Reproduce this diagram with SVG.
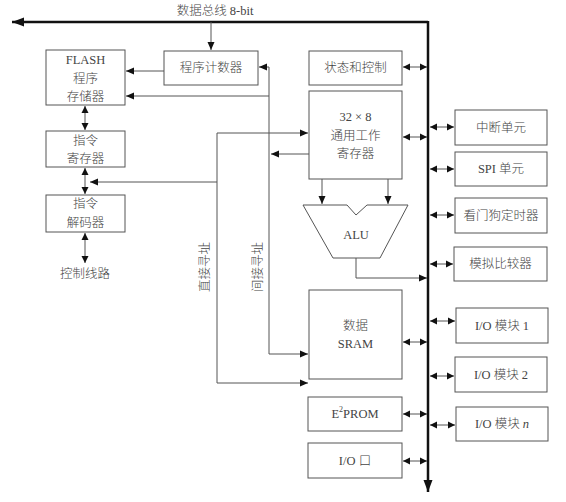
<svg xmlns="http://www.w3.org/2000/svg" width="566" height="502" viewBox="0 0 566 502">
<style>
.box{fill:#fff;stroke:#555;stroke-width:1}
.t{font-family:"Liberation Serif","Noto Sans CJK SC",serif;font-size:12.5px;font-weight:300;fill:#444;text-anchor:middle;dominant-baseline:central}
.c{fill:none;stroke:#555;stroke-width:1}
.bus{fill:none;stroke:#111;stroke-width:2.5}
</style>
<defs>
<marker id="a" markerUnits="userSpaceOnUse" markerWidth="10" markerHeight="10" refX="9" refY="5" orient="auto">
<path d="M1,1.5 L9,5 L1,8.5 Z" fill="#111"/>
</marker>
<marker id="s" markerUnits="userSpaceOnUse" markerWidth="10" markerHeight="10" refX="9" refY="5" orient="auto-start-reverse">
<path d="M2,1.5 L9,5 L2,8.5 Z" fill="#111"/>
</marker>
<marker id="b" markerUnits="userSpaceOnUse" markerWidth="14" markerHeight="12" refX="12" refY="6" orient="auto">
<path d="M0,1.5 L12,6 L0,10.5 Z" fill="#111"/>
</marker>
</defs>
<rect width="566" height="502" fill="#fff"/>

<g id="connectors">
<path class="bus" d="M428,22 H12" marker-end="url(#b)"/>
<path class="bus" d="M428,21 V492" marker-end="url(#b)"/>
<path class="c" d="M211,22 V50" marker-end="url(#a)"/>
<path class="c" d="M164,71 H126" marker-end="url(#a)"/>
<path class="c" d="M269,96 H126" marker-end="url(#a)"/>
<path class="c" d="M269,67 H259" marker-end="url(#a)"/>
<path class="c" d="M269,67 V354 H308" marker-end="url(#a)"/>
<path class="c" d="M309,154 H271" marker-end="url(#a)"/>
<path class="c" d="M217,133 H308" marker-end="url(#a)"/>
<path class="c" d="M217,133 V383 H308" marker-end="url(#a)"/>
<path class="c" d="M217,182 H90" marker-end="url(#a)"/>
<path class="c" d="M85,106 V130" marker-start="url(#s)" marker-end="url(#s)"/>
<path class="c" d="M85,168 V194" marker-start="url(#s)" marker-end="url(#s)"/>
<path class="c" d="M85,233 V263" marker-start="url(#s)" marker-end="url(#s)"/>
<path class="c" d="M322,179 V204" marker-end="url(#a)"/>
<path class="c" d="M388,179 V204" marker-end="url(#a)"/>
<path class="c" d="M356,258 V278 H427" marker-end="url(#a)"/>
<path class="c" d="M403,67 H427" marker-start="url(#s)" marker-end="url(#s)"/>
<path class="c" d="M403,137 H427" marker-start="url(#s)" marker-end="url(#s)"/>
<path class="c" d="M403,342 H427" marker-start="url(#s)" marker-end="url(#s)"/>
<path class="c" d="M403,414 H427" marker-start="url(#s)" marker-end="url(#s)"/>
<path class="c" d="M403,461 H427" marker-start="url(#s)" marker-end="url(#s)"/>
<path class="c" d="M430,127 H454" marker-start="url(#s)" marker-end="url(#s)"/>
<path class="c" d="M430,169 H454" marker-start="url(#s)" marker-end="url(#s)"/>
<path class="c" d="M430,215 H454" marker-start="url(#s)" marker-end="url(#s)"/>
<path class="c" d="M430,264 H453" marker-start="url(#s)" marker-end="url(#s)"/>
<path class="c" d="M430,321 H455" marker-start="url(#s)" marker-end="url(#s)"/>
<path class="c" d="M430,376 H454" marker-start="url(#s)" marker-end="url(#s)"/>
<path class="c" d="M430,425 H455" marker-start="url(#s)" marker-end="url(#s)"/>
</g>

<text class="t" x="215" y="11">数据总线 8-bit</text>
<text class="t" x="85" y="274">控制线路</text>
<text class="t" transform="translate(205,267) rotate(-90)">直接寻址</text>
<text class="t" transform="translate(258,267) rotate(-90)">间接寻址</text>

<g id="flash">
<rect class="box" x="46" y="50" width="79" height="55"/>
<text class="t" x="85.5" y="60">FLASH</text>
<text class="t" x="85.5" y="79">程序</text>
<text class="t" x="85.5" y="97">存储器</text>
</g>
<g id="pc">
<rect class="box" x="164" y="51" width="94" height="34"/>
<text class="t" x="211" y="68">程序计数器</text>
</g>
<g id="ir">
<rect class="box" x="46" y="131" width="79" height="36"/>
<text class="t" x="85.5" y="141">指令</text>
<text class="t" x="85.5" y="159">寄存器</text>
</g>
<g id="id">
<rect class="box" x="46" y="195" width="79" height="37"/>
<text class="t" x="85.5" y="204">指令</text>
<text class="t" x="85.5" y="223">解码器</text>
</g>
<g id="status">
<rect class="box" x="309" y="51" width="93" height="34"/>
<text class="t" x="355.5" y="68">状态和控制</text>
</g>
<g id="regs">
<rect class="box" x="309" y="91" width="93" height="88"/>
<text class="t" x="355.5" y="117">32 × 8</text>
<text class="t" x="355.5" y="136">通用工作</text>
<text class="t" x="355.5" y="154">寄存器</text>
</g>
<g id="alu">
<path class="box" d="M303,205 H347 L356,215 L367,205 H408 L380,258 H333 Z"/>
<text class="t" x="356" y="235">ALU</text>
</g>
<g id="sram">
<rect class="box" x="309" y="290" width="93" height="89"/>
<text class="t" x="355.5" y="326">数据</text>
<text class="t" x="355.5" y="344">SRAM</text>
</g>
<g id="eeprom">
<rect class="box" x="308" y="397" width="94" height="34"/>
<text class="t" x="355" y="414">E<tspan font-size="8" dy="-5">2</tspan><tspan dy="5">PROM</tspan></text>
</g>
<g id="ioport">
<rect class="box" x="308" y="443" width="94" height="35"/>
<text class="t" x="355" y="460.5">I/O 口</text>
</g>
<g id="int">
<rect class="box" x="455" y="110" width="92" height="35"/>
<text class="t" x="501" y="127.5">中断单元</text>
</g>
<g id="spi">
<rect class="box" x="455" y="152" width="92" height="34"/>
<text class="t" x="501" y="169">SPI 单元</text>
</g>
<g id="wdt">
<rect class="box" x="455" y="198" width="92" height="35"/>
<text class="t" x="501" y="215.5">看门狗定时器</text>
</g>
<g id="acomp">
<rect class="box" x="454" y="247" width="93" height="34"/>
<text class="t" x="500.5" y="264">模拟比较器</text>
</g>
<g id="io1">
<rect class="box" x="456" y="308" width="92" height="35"/>
<text class="t" x="502" y="325.5">I/O 模块 1</text>
</g>
<g id="io2">
<rect class="box" x="455" y="357" width="92" height="35"/>
<text class="t" x="501" y="374.5">I/O 模块 2</text>
</g>
<g id="ion">
<rect class="box" x="456" y="407" width="92" height="34"/>
<text class="t" x="502" y="424">I/O 模块 <tspan font-style="italic">n</tspan></text>
</g>
</svg>
